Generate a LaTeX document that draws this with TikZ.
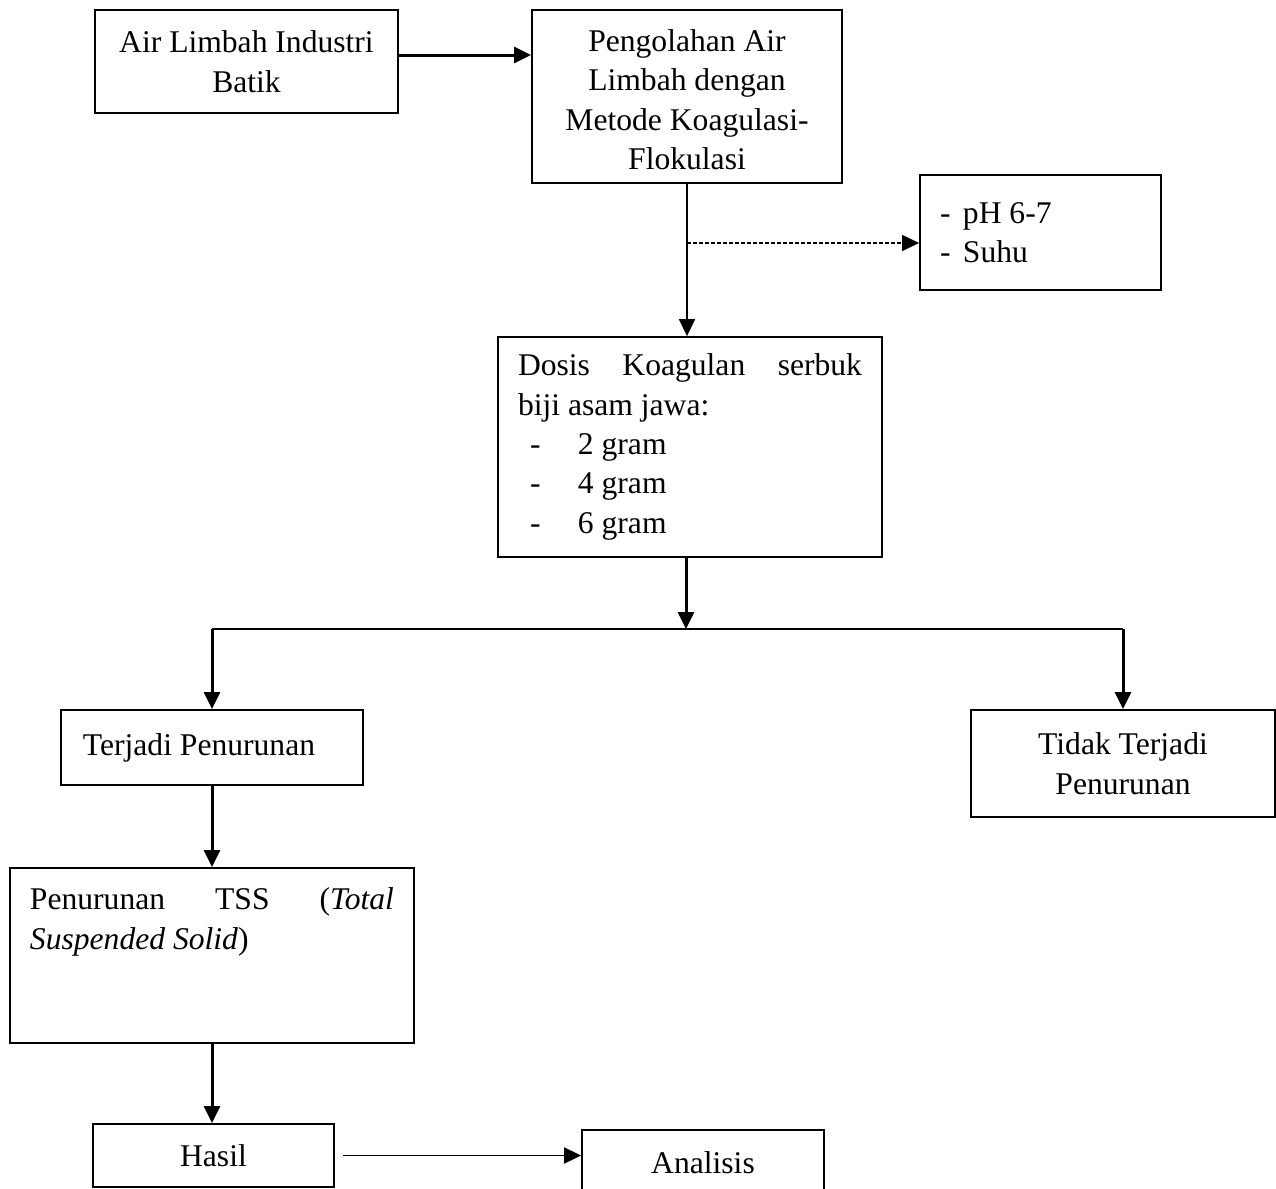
\documentclass[tikz,border=0pt]{standalone}
\usepackage{fontspec}
\setmainfont{Liberation Serif}
\usetikzlibrary{arrows.meta}
\newcommand\boxfont{\fontsize{15.8pt}{19.7pt}\selectfont}
\begin{document}
\begin{tikzpicture}[x=0.5pt,y=-0.5pt,
  box/.style={draw, line width=0.9pt, inner sep=0pt, font=\boxfont},
  tip/.style={-{Triangle[length=8.5pt,width=8pt]}},
  arr/.style={line width=1.5pt, tip},
  thinarr/.style={line width=0.9pt, tip},
  dasharr/.style={line width=0.7pt, dash pattern=on 1.8pt off 1.2pt, tip},
  plainline/.style={line width=0.9pt}]
\useasboundingbox (0,0) rectangle (1276,1189);

\node[box, minimum width=151.5pt, minimum height=51.5pt, align=center] (A) at (246.5,61.5)
  {Air Limbah Industri\\Batik};
\node[box, minimum width=155pt, minimum height=86.5pt] (B) at (687,96.5)
  {\parbox[c][86.5pt][c]{150pt}{\centering\vspace*{3pt}Pengolahan Air\\Limbah dengan\\Metode Koagulasi-\\Flokulasi}};
\node[box, minimum height=57.5pt, inner xsep=10pt] (C) at (1040.5,232.5)
  {\parbox{100.5pt}{\raggedright\makebox[11.5pt][l]{-}pH 6-7\\\makebox[11.5pt][l]{-}Suhu}};
\node[box, minimum height=110pt, inner xsep=10pt] (D) at (690,447)
  {\parbox{172pt}{Dosis Koagulan serbuk\linebreak biji asam jawa:\\
   \makebox[30pt][l]{\hspace{6pt}-}2 gram\\
   \makebox[30pt][l]{\hspace{6pt}-}4 gram\\
   \makebox[30pt][l]{\hspace{6pt}-}6 gram}};
\node[box, minimum height=37.5pt, inner xsep=11pt] (E) at (212,747.5)
  {\parbox{129pt}{\raggedright Terjadi Penurunan}};
\node[box, minimum width=152pt, minimum height=53.5pt, align=center] (F) at (1123,763.5)
  {Tidak Terjadi\\Penurunan};
\node[box, inner xsep=10pt] (G) at (212,955.5)
  {\parbox[c][87.5pt][t]{182pt}{\vspace*{7.2pt}\strut Penurunan TSS (\textit{Total}\linebreak
   \textit{Suspended Solid})}};
\node[box, minimum width=120.5pt, minimum height=31.5pt] (H) at (213.5,1155.5) {Hasil};
\node[box, minimum width=121pt, minimum height=32.5pt] (I) at (703,1162.5) {Analisis};

\coordinate (ab) at (0,55);
\coordinate (dy) at (0,243);
\coordinate (br) at (686,629);

\draw[arr] (A.east |- ab) -- (B.west |- ab);
\draw[thinarr] (B.south) -- (B.south |- D.north);
\draw[dasharr] (B.south |- dy) -- (C.west |- dy);
\draw[arr] (br |- D.south) -- (br);
\draw[plainline] (E.north |- br) -- (F.north |- br);
\draw[arr] (E.north |- br) -- (E.north);
\draw[arr] (F.north |- br) -- (F.north);
\draw[arr] (E.south) -- (G.north);
\draw[arr] (G.south) -- (G.south |- H.north);
\draw[thinarr] ([xshift=4pt]H.east) -- (I.west |- H.east);
\end{tikzpicture}
\end{document}
